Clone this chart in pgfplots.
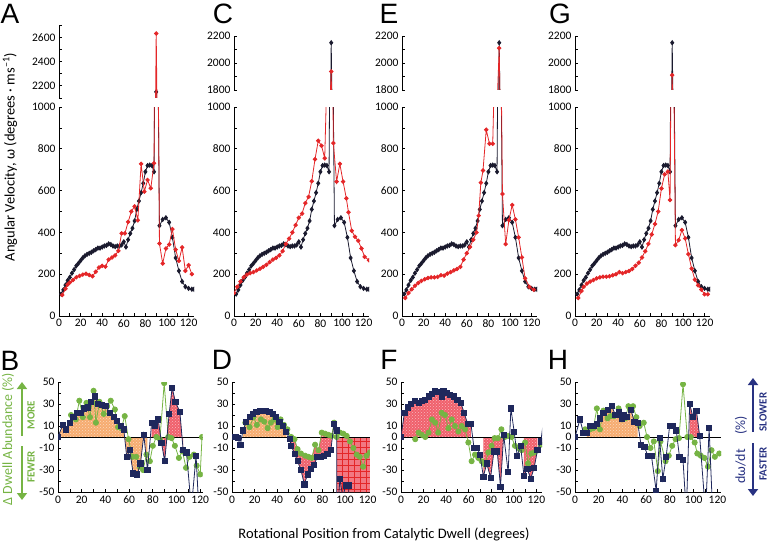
\documentclass[border=0pt]{standalone}
\usepackage{pgfplots}
\pgfplotsset{compat=1.18}
\usepackage{pgfplotstable}
\usetikzlibrary{arrows.meta,patterns,patterns.meta}
\usepackage{fontspec}
\setmainfont{Carlito}
\newfontfamily\letterfont{Liberation Sans}

\definecolor{topdark}{RGB}{26,26,46}
\definecolor{redline}{RGB}{228,38,40}
\definecolor{navy}{RGB}{31,40,92}
\definecolor{greenc}{RGB}{118,180,68}
\definecolor{orangefill}{RGB}{246,172,112}
\definecolor{redfill}{RGB}{240,96,108}
\definecolor{arrownavy}{RGB}{40,50,130}

\pgfplotstableread{
x y
2 105
4 125
6 148
8 170
10 185
12 205
14 222
16 240
18 252
20 265
22 278
24 288
26 295
28 300
30 305
32 312
34 318
36 325
38 325
40 330
42 335
44 338
46 345
48 342
50 335
52 332
54 335
56 335
58 340
60 355
62 330
64 365
66 395
68 420
70 455
72 510
74 550
76 590
78 635
80 690
82 720
84 722
86 720
88 690
90 2150
93 432
96 462
99 470
102 448
105 376
108 278
111 216
114 165
117 140
120 132
123 128
125 128
}\blackT

\pgfplotstableread{
x y
3 100
6 130
8 150
10 160
13 172
16 185
19 192
22 198
25 202
28 196
31 190
34 212
37 232
40 240
43 236
46 270
49 280
52 290
55 312
58 395
61 395
64 450
67 500
70 525
73 458
76 728
79 595
82 651
85 611
88 731
90 2630
93 347
96 251
99 323
102 342
105 416
108 318
111 264
114 328
117 216
120 243
123 200
}\redA

\pgfplotstableread{
x y
0 110
3 140
6 165
9 185
12 198
15 205
18 210
21 218
24 226
27 235
30 245
33 258
36 270
39 278
42 290
45 310
48 345
51 370
54 400
57 435
60 470
63 490
66 540
69 570
72 645
75 750
78 838
81 815
84 755
90 1937
92 827
95 643
98 728
101 643
104 563
106 496
109 408
112 379
115 360
118 323
121 283
125 267
}\redC

\pgfplotstableread{
x y
3 86
6 110
9 128
12 145
15 158
18 168
21 176
24 182
27 185
30 185
33 187
36 195
39 193
42 203
45 210
48 218
51 225
54 235
57 270
60 300
63 330
66 365
69 400
71 480
73 638
75 696
78 891
81 824
84 824
90 2110
93 584
96 344
99 459
102 531
105 462
108 376
111 280
114 180
118 139
122 126
}\redE

\pgfplotstableread{
x y
3 86
6 120
8 140
11 155
14 165
17 172
20 180
23 185
26 188
29 188
32 190
35 195
38 200
41 210
44 205
47 210
50 215
53 225
56 240
59 255
62 280
65 310
68 345
71 390
74 440
77 500
80 610
83 678
86 691
88 555
90 1910
93 339
96 363
99 411
102 371
105 296
108 227
111 174
114 147
117 126
120 104
123 104
}\redG

\pgfplotstableread{
x y
0 0
4 11
7 7
10 13
13 18
16 22
19 22
22 26
25 27
28 32
31 37
34 30
37 29
40 28
44 22
47 18
50 15
53 10
55.5 7
58 -18
60.5 -12
63.4 -33
66.8 -34
69.6 -24
72.4 2
75.5 -30
79 13
81.7 10
84.5 16
87.3 -5
90 -22
93.8 21
96.3 45
99 32
102.8 23
105.6 -12
108.4 -14
112.5 -65
116.5 -17
119 -70
}\navyB

\pgfplotstableread{
x y
11 20
15 16
18 33
21 18
24 31
27 18
30 42
32 13
35 32
38.6 21
41.5 28
44.5 33
48 25
50.7 9
53.5 8
56.3 19
59.5 -2
62.8 -18
66 -18
69 -27
71.8 -30
74.6 -16
77.5 -22
80 -8
83 0
86 -2
89.6 49
93 0
95.8 -1
98.6 -8
102 -19
105 -13
108 -28
111 -18
114.6 -16
117 -26
120 -34
121.5 0
}\greenB

\pgfplotstableread{
x y
0 0
3 0
5 -1
7.4 -7
9.7 6
12.6 14
15.6 18
18.5 21
21.5 23
24.4 24
27.4 24
30.3 24
33 23
36 21
39 18
42 14
45 10
48 5
51 -2
52.4 -8
55.3 -15
58 -22
61 -30
64 -43
66.8 -34
69.7 -29
72.6 -25
75.6 -18
78.5 -18
81.5 -17
84.4 -15
87.4 -12
90.3 12
92.6 6
92.7 -75
95.5 -38
98 -55
100.5 -44
103 -44
105 -75
}\navyD

\pgfplotstableread{
x y
11.8 13
15.6 9
19 18
22 11
25.6 16
28.5 14
31.5 8
34.4 13
37.4 16
40.3 9
43 16
46 11
49 7
52.4 0
55.3 -2
58 -11
61 -15
64.7 -17
67.6 -18
70.6 -19
73.5 -7
76.5 -12
79.4 4
82.4 3
85.3 2
88.2 1
90.3 13
92.6 0
95.6 4
98.5 3
101.5 1
104.4 -4
107.4 -10
110.3 -16
113 -18
116 -27
119 -17
122 -14
}\greenD

\pgfplotstableread{
x y
0 0
3 22
5.9 27
8.8 30
12.6 33
15.6 31
18.5 33
21.5 34
24.4 37
27.4 39
30.3 42
33 41
36 37
37.6 42
40.6 40
43.5 38
47 37
50 34
53 31
56 22
59 12
62 12
64.7 -10
67.6 -10
70 -16
73 -36
76 -24
79.4 -37
82.4 -13
85.3 -13
88.2 -45
91 2
95 -32
97.4 26
100.3 5
103 -17
106 -8
109 -35
112 -29
115 -38
118 -28
121 -12
124 -4
126 12
}\navyF

\pgfplotstableread{
x y
12.6 -2
15.6 4
18.5 2
21.5 0
24.4 4
27.4 16
30.3 13
33 4
36 22
39 20
42 8
45 16
47.9 10
50.9 5
53.8 10
56.8 7
59.7 -5
62.6 -22
65.6 -16
68.5 -19
71.5 -22
74.4 -25
77.4 -14
80.3 -8
83 -1
86 -1
89 7
92 0
95 1
98 0
101 -8
104 -10
107 -12
110 -5
112.6 -24
115.6 -15
118.5 -14
121.5 -12
124 -7
}\greenF

\pgfplotstableread{
x y
0 0
4.2 16
7 4
10 4
13 10
15.5 10
18.4 12
21 17
24 22
27.4 25
31 28
34 20
36.7 23
39.5 17
41.5 20
44 18
47 25
50 14
52.8 13
55.6 -7
58.5 -9
61.3 -17
64.4 -17
68.4 -49
71.2 -1
74 -38
76.8 -18
79.7 10
82.5 10
85.3 6
88 -18
91 -21
93.8 -70
96.6 30
99.4 18
102.3 24
105 1
110 -70
113 8
116 -70
}\navyH

\pgfplotstableread{
x y
8.5 7
12.7 7
15.5 8
18.4 26
21 7
24 24
27.4 17
30 19
33 19
36.7 26
39.5 16
42.4 17
45 28
48.9 28
51.7 18
54.5 10
57.9 13
60.7 0
63.6 -10
66.4 -4
69.8 -31
72 -4
76.3 -22
79 -17
81.9 -8
84.7 -2
87.6 -1
91 48
94.6 0
97.5 0
100.8 -5
103 -15
106 -17
109 -19
112 -27
115 -12
117.8 -18
121.5 -15
}\greenH

\pgfplotsset{
  base/.style={scale only axis, clip marker paths=true, tick align=inside,
    axis line style={line width=0.9pt, black},
    every tick/.style={line width=0.7pt, black},
    major tick length=3pt, minor tick length=3pt,
    tick label style={font=\fontsize{11.5}{13}\selectfont},
    /pgf/number format/assume math mode=true, /pgf/number format/1000 sep={},
    xmin=0},
  topmain/.style={base, width=135pt, height=209pt, xmax=125, ymin=0, ymax=1000,
    axis x line*=bottom, axis y line*=left, xtick={0,20,...,120}, minor xtick={10,30,...,110},
    ytick={0,200,...,1000}, minor ytick={100,300,...,900}},
  breakA/.style={base, width=135pt, height=73pt, xmax=125, ymin=2100, ymax=2700,
    axis x line=none, axis y line*=left, ytick={2200,2400,2600}, minor ytick={2100,2300,2500,2700}},
  breakC/.style={base, width=135pt, height=54pt, xmax=125, ymin=1800, ymax=2200,
    axis x line=none, axis y line*=left, ytick={1800,2000,2200}, minor ytick={1900,2100}},
  bot/.style={base, height=110pt, ymin=-50, ymax=50, axis x line*=bottom, axis y line*=left,
    xtick={0,20,...,120}, minor xtick={10,30,...,110},
    ytick={-50,-30,-10,0,10,30,50}, minor ytick={-40,-20,20,40}},
  blk/.style={color=topdark, line width=0.8pt, mark=diamond*, mark size=2.1pt},
  rd/.style={color=redline, line width=0.8pt, mark=*, mark size=1.8pt},
  nvy/.style={color=navy, line width=0.8pt, mark=square*, mark size=2.6pt},
  grn/.style={color=greenc, line width=0.8pt, mark=*, mark size=2.6pt},
  zl/.style={black, line width=0.8pt, no marks},
}
\tikzset{
  ofill/.style={fill=orangefill, draw=none, postaction={pattern=crosshatch dots, pattern color=white!55!orangefill}},
  rfill/.style={fill=redfill, draw=none, postaction={pattern=crosshatch dots, pattern color=white!55!redfill}},
  rgrid/.style={fill=redfill!85!white, draw=none, postaction={pattern={Hatch[angle=0,distance=6pt,line width=0.4pt]}, pattern color=redline}},
}

\newcommand{\topcol}[4]{%
\begin{axis}[#3, at={(#1pt,-#4pt)}, anchor=south west]
\addplot[blk] table {\blackT};
\addplot[rd] table {#2};
\end{axis}
\begin{axis}[topmain, at={(#1pt,-316pt)}, anchor=south west]
\addplot[blk] table {\blackT};
\addplot[rd] table {#2};
\end{axis}}

\begin{document}
\begin{tikzpicture}
\useasboundingbox (0,0) rectangle (768pt,-543pt);

\topcol{59}{\redA}{breakA}{98}
\topcol{234}{\redC}{breakC}{90}
\topcol{402}{\redE}{breakC}{90}
\topcol{575}{\redG}{breakC}{90}

% B
\begin{axis}[bot, at={(58pt,-492pt)}, anchor=south west, width=144.6pt, xmax=122]
\addplot[ofill, no marks, restrict x to domain=0:77] table {\navyB} \closedcycle;
\addplot[rfill, no marks, restrict x to domain=78:106] table {\navyB} \closedcycle;
\addplot[zl] coordinates {(0,0) (122,0)};
\addplot[grn] table {\greenB};
\addplot[nvy] table {\navyB};
\end{axis}

% D
\begin{axis}[bot, at={(232pt,-492pt)}, anchor=south west, width=137.9pt, xmax=122]
\addplot[ofill, no marks, restrict x to domain=8:50.5] table {\navyD} \closedcycle;
\addplot[rfill, no marks] coordinates {(51,-2) (52.4,-8) (55.3,-15) (58,-22) (61,-30) (64,-43) (66.8,-34) (69.7,-29) (72.6,-25) (75.6,-18) (78.5,-18) (81.5,-17) (84.4,-15) (87.4,-12) (90.3,12) (88.2,1) (85.3,2) (82.4,3) (79.4,4) (76.5,-12) (73.5,-7) (70.6,-19) (67.6,-18) (64.7,-17) (61,-15) (58,-11) (55.3,-2) (52.4,0)} -- cycle;
\addplot[rgrid, no marks] coordinates {(92.7,0) (122,0) (122,-50) (92.7,-50)} \closedcycle;
\addplot[zl] coordinates {(0,0) (122,0)};
\addplot[grn] table {\greenD};
\addplot[nvy] table {\navyD};
\end{axis}

% F
\begin{axis}[bot, at={(401pt,-492pt)}, anchor=south west, width=141pt, xmax=125]
\addplot[rfill, no marks, restrict x to domain=0:63] table {\navyF} \closedcycle;
\addplot[rfill, no marks, restrict x to domain=72.5:92] table {\navyF} \closedcycle;
\addplot[rfill, no marks, restrict x to domain=107:121.5] table {\navyF} \closedcycle;
\addplot[zl] coordinates {(0,0) (125,0)};
\addplot[grn] table {\greenF};
\addplot[nvy] table {\navyF};
\end{axis}

% H
\begin{axis}[bot, at={(575pt,-492pt)}, anchor=south west, width=146pt, xmax=123]
\addplot[ofill, no marks, restrict x to domain=9:54] table {\navyH} \closedcycle;
\addplot[rfill, no marks, restrict x to domain=95:106] table {\navyH} \closedcycle;
\addplot[zl] coordinates {(0,0) (123,0)};
\addplot[grn] table {\greenH};
\addplot[nvy] table {\navyH};
\end{axis}

% panel letters
\foreach \l/\x/\y in {A/10/14, C/223/14, E/389/14, G/560/14, B/10/361, D/222/360, F/389/360, H/558/360}
  \node[font=\letterfont\fontsize{28}{30}\selectfont, inner sep=0pt] at (\x pt,-\y pt) {\l};

% axis titles
\node[rotate=90, font=\fontsize{14.5}{16}\selectfont, inner sep=0pt] at (10pt,-157pt)
  {Angular Velocity, ω (degrees · ms\textsuperscript{–1})};
\node[font=\fontsize{14.5}{16}\selectfont, inner sep=0pt] at (384pt,-534pt)
  {Rotational Position from Catalytic Dwell (degrees)};

% left green annotations
\node[rotate=90, text=greenc, font=\fontsize{14}{16}\selectfont, inner sep=0pt] at (8pt,-439pt)
  {Δ Dwell Abundance (\%)};
\draw[greenc, line width=2.6pt, -{Triangle[length=7pt,width=10pt]}] (22pt,-436pt) -- (22pt,-382pt);
\draw[greenc, line width=2.6pt, -{Triangle[length=7pt,width=10pt]}] (22pt,-446pt) -- (22pt,-500pt);
\node[rotate=90, text=greenc, font=\bfseries\fontsize{11}{12}\selectfont, inner sep=0pt] at (31pt,-415pt) {MORE};
\node[rotate=90, text=greenc, font=\bfseries\fontsize{11}{12}\selectfont, inner sep=0pt] at (31pt,-467pt) {FEWER};

% right navy annotations
\node[rotate=90, text=arrownavy, font=\fontsize{14}{16}\selectfont, inner sep=0pt] at (741pt,-450pt)
  {dω/dt\quad(\%)};
\draw[arrownavy, line width=2.6pt, -{Triangle[length=7pt,width=10pt]}] (753pt,-432pt) -- (753pt,-378pt);
\draw[arrownavy, line width=2.6pt, -{Triangle[length=7pt,width=10pt]}] (753pt,-443pt) -- (753pt,-496pt);
\node[rotate=90, text=arrownavy, font=\bfseries\fontsize{11}{12}\selectfont, inner sep=0pt] at (763pt,-412pt) {SLOWER};
\node[rotate=90, text=arrownavy, font=\bfseries\fontsize{11}{12}\selectfont, inner sep=0pt] at (763pt,-464pt) {FASTER};
\end{tikzpicture}
\end{document}
